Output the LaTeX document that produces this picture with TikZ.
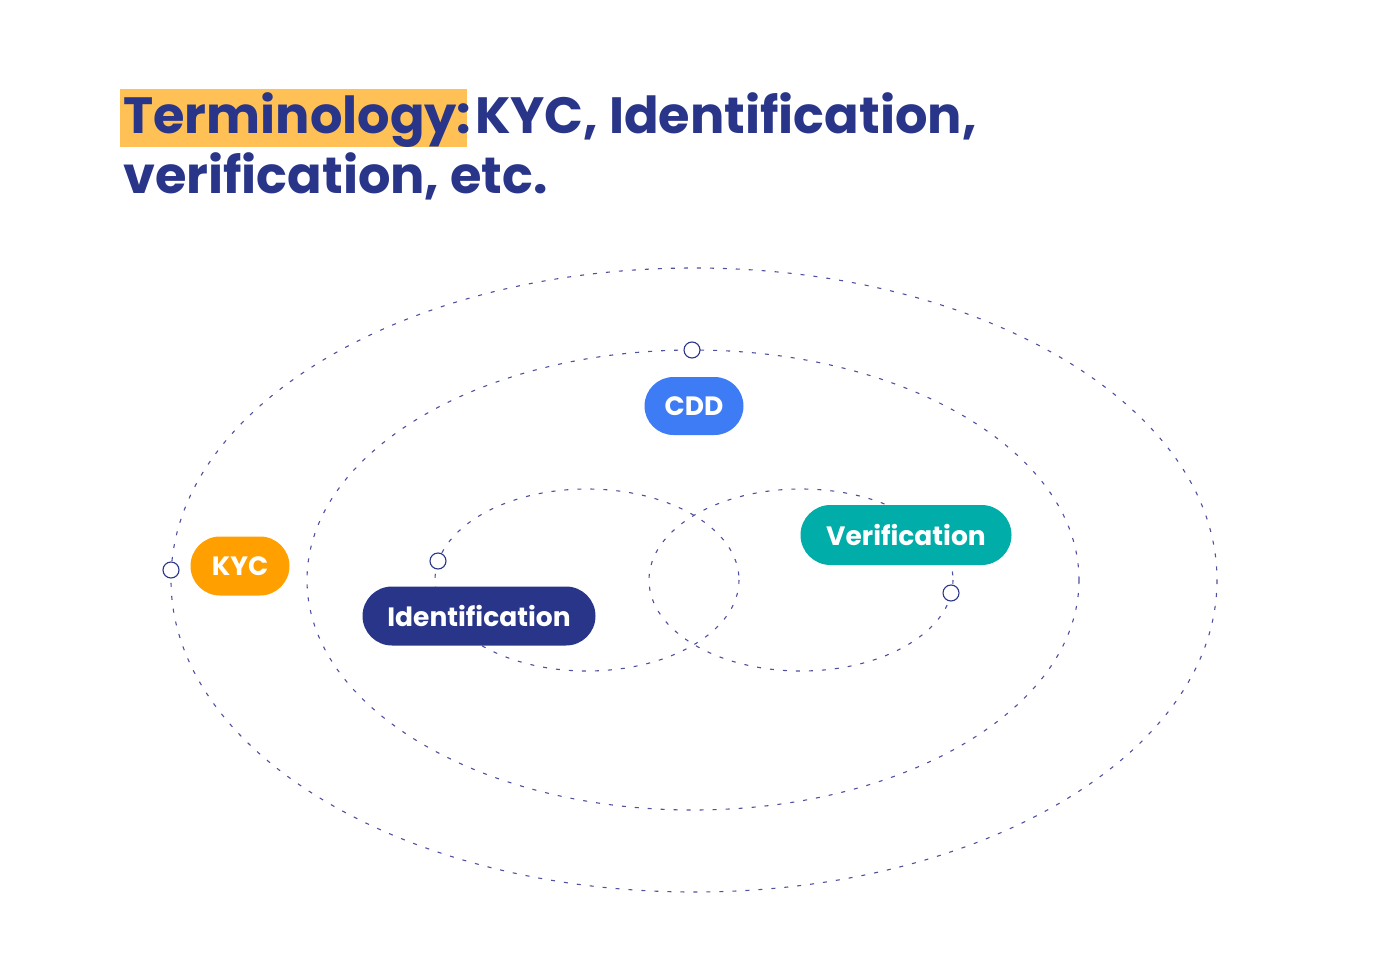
\documentclass[tikz,border=0pt]{standalone}
\usepackage{fontspec}
\setmainfont{Poppins}[BoldFont={* Bold}]
\usetikzlibrary{shapes.misc}
\definecolor{navy}{RGB}{41,53,137}
\definecolor{hlcol}{RGB}{255,193,85}
\definecolor{kycor}{RGB}{255,159,0}
\definecolor{cddbl}{RGB}{61,124,245}
\definecolor{verteal}{RGB}{0,173,168}
\definecolor{dotcol}{RGB}{80,80,160}
\tikzset{
  dotline/.style={draw=dotcol, line width=1.1pt, dash pattern=on 4pt off 9pt},
  pill/.style={rounded rectangle, inner sep=0pt, text=white, font=\fontsize{26.5}{30}\selectfont\bfseries},
  marker/.style={circle, draw=navy, fill=white, line width=1.1pt, minimum size=16pt, inner sep=0pt},
  titletext/.style={text=navy, inner sep=0pt, font=\fontsize{51}{60}\selectfont\bfseries}
}
\begin{document}
\begin{tikzpicture}[x=1pt,y=-1pt]
\useasboundingbox (0,0) rectangle (1388,971);
% title
\node[fill=hlcol, minimum width=347pt, minimum height=58pt, inner sep=0pt, anchor=north west] (hl) at (120,89) {};
\node[titletext, anchor=base west] (t1) at (123,133) {Terminology:};
\node[titletext, anchor=base west] (t2) at (475,133) {KYC, Identification,};
\node[titletext, anchor=base west] (t3) at (123,193) {verification, etc.};
% ellipses
\draw[dotline] (694,580) ellipse [x radius=523, y radius=312];
\draw[dotline] (693,580) ellipse [x radius=386, y radius=230];
\draw[dotline] (587,580) ellipse [x radius=152, y radius=91];
\draw[dotline] (801,580) ellipse [x radius=152, y radius=91];
% labels
\node[pill, fill=kycor, minimum width=99pt, minimum height=59pt] (kyc) at (240,566) {KYC};
\node[pill, fill=cddbl, minimum width=99pt, minimum height=58pt] (cdd) at (694,406) {CDD};
\node[pill, fill=verteal, minimum width=211pt, minimum height=60pt] (ver) at (906,535) {Verification};
\node[pill, fill=navy, minimum width=233pt, minimum height=59pt] (idn) at (479,616) {Identification};
% markers
\node[marker] (m1) at (171,570) {};
\node[marker] (m2) at (692,350) {};
\node[marker] (m3) at (438,561) {};
\node[marker] (m4) at (951,593) {};
\end{tikzpicture}
\end{document}
